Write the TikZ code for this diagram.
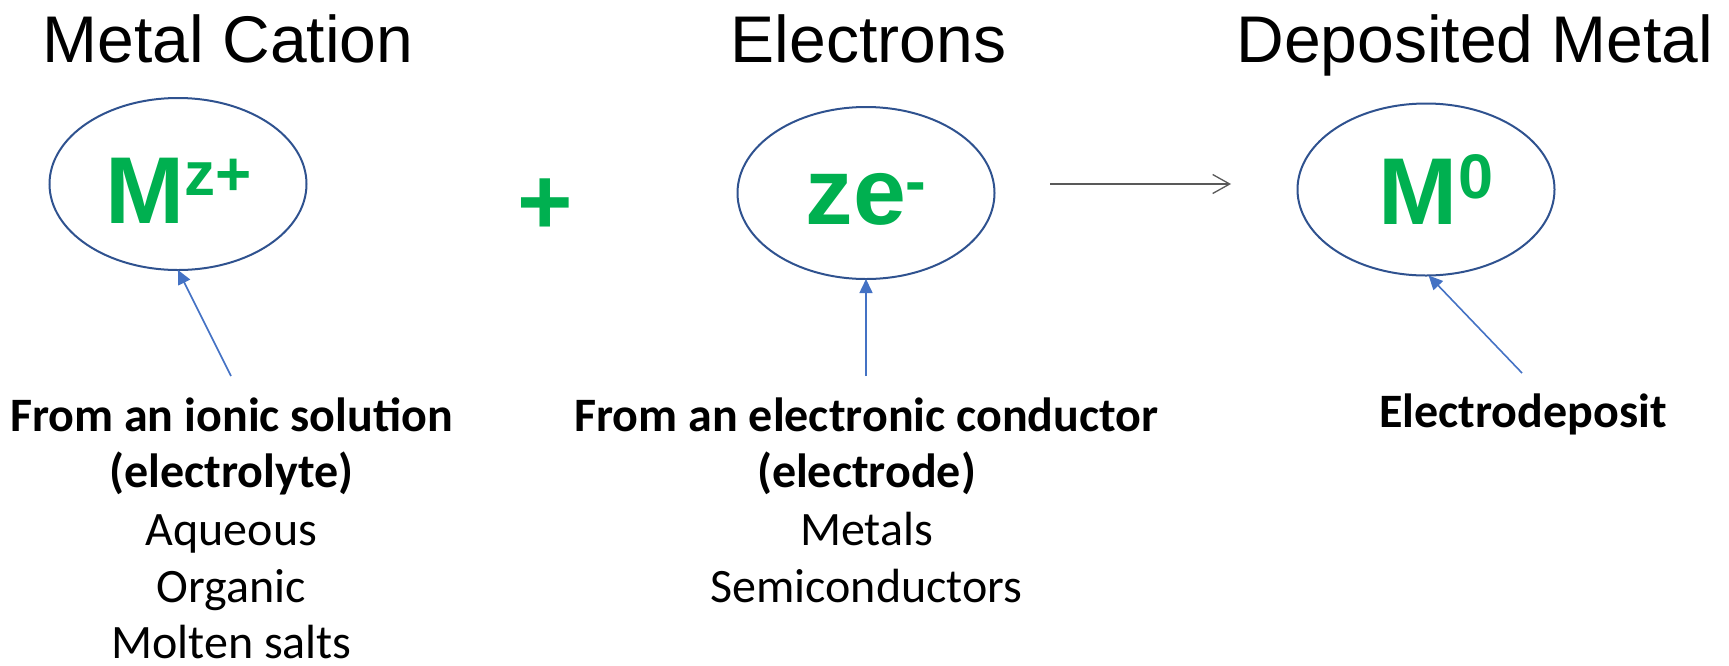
\documentclass[tikz,border=0pt]{standalone}
\usepackage{fontspec}
\setmainfont{Carlito}
\newfontfamily\headfont{Liberation Sans}
\usetikzlibrary{shapes.geometric,arrows.meta}
\definecolor{ellblue}{HTML}{2F528F}
\definecolor{arrblue}{HTML}{4472C4}
\definecolor{symgreen}{HTML}{00B050}
\definecolor{arrgray}{HTML}{595959}
\begin{document}
\begin{tikzpicture}[x=0.5pt,y=-0.5pt,
  heading/.style={anchor=base,inner sep=0,font=\headfont\fontsize{33}{40}\selectfont},
  bubble/.style={ellipse,draw=ellblue,line width=1pt,inner sep=0,outer sep=0,minimum width=128.5pt,minimum height=86pt},
  sym/.style={anchor=base,inner sep=0,text=symgreen,font=\headfont\bfseries\fontsize{47.5}{50}\selectfont},
  lab/.style={anchor=base,inner sep=0,font=\fontsize{24}{28}\selectfont},
  blab/.style={anchor=base,inner sep=0,font=\bfseries\fontsize{24}{28}\selectfont},
  feed/.style={arrblue,line width=0.8pt,-{Triangle[length=7pt,width=6.5pt]}},
  react/.style={arrgray,line width=0.65pt,-{Straight Barb[length=8.5pt,width=9.5pt]}}
]
\useasboundingbox (0,0) rectangle (1729,665);

% headings
\node[heading] (h1) at (228,62) {Metal Cation};
\node[heading] (h2) at (868.5,62) {Electrons};
\node[heading] (h3) at (1475,62) {Deposited Metal};

% ellipses
\node[bubble] (e1) at (178,184) {};
\node[bubble] (e2) at (866,193) {};
\node[bubble] (e3) at (1426,189.5) {};

% symbols
\node[sym] (s1) at (178.5,223) {M\raisebox{14pt}{\fontsize{31}{31}\selectfont z+}};
\node[sym] (s2) at (866,224) {ze\raisebox{11pt}{\fontsize{31}{31}\selectfont -}};
\node[sym] (s3) at (1436,224) {M\raisebox{13pt}{\fontsize{31.5}{31}\selectfont 0}};
\node[sym] (plus) at (545,234) {+};

% reaction arrow
\coordinate (r1) at (1050,184);
\coordinate (r2) at (1231,184);
\draw[react] (r1) -- (r2);

% left labels
\node[blab] (l1) at (231.5,431) {From an ionic solution};
\node[blab] (l2) at (231.5,487) {(electrolyte)};
\node[lab] (l3) at (231.5,545) {Aqueous};
\node[lab] (l4) at (231.5,602) {Organic};
\node[lab] (l5) at (231.5,658) {Molten salts};

% middle labels
\node[blab] (m1) at (866.5,431) {From an electronic conductor};
\node[blab] (m2) at (866.5,487) {(electrode)};
\node[lab] (m3) at (866.5,545) {Metals};
\node[lab] (m4) at (866.5,602) {Semiconductors};

% right label
\node[blab] (rl) at (1523,427) {Electrodeposit};

% feed arrows
\coordinate (a1) at (231,376);
\coordinate (a2) at (866,376);
\coordinate (a3) at (1522,373);
\draw[feed] (a1) -- (e1.south);
\draw[feed] (a2) -- (e2.south);
\draw[feed] (a3) -- ([xshift=1.3pt]e3.south);
\end{tikzpicture}
\end{document}
